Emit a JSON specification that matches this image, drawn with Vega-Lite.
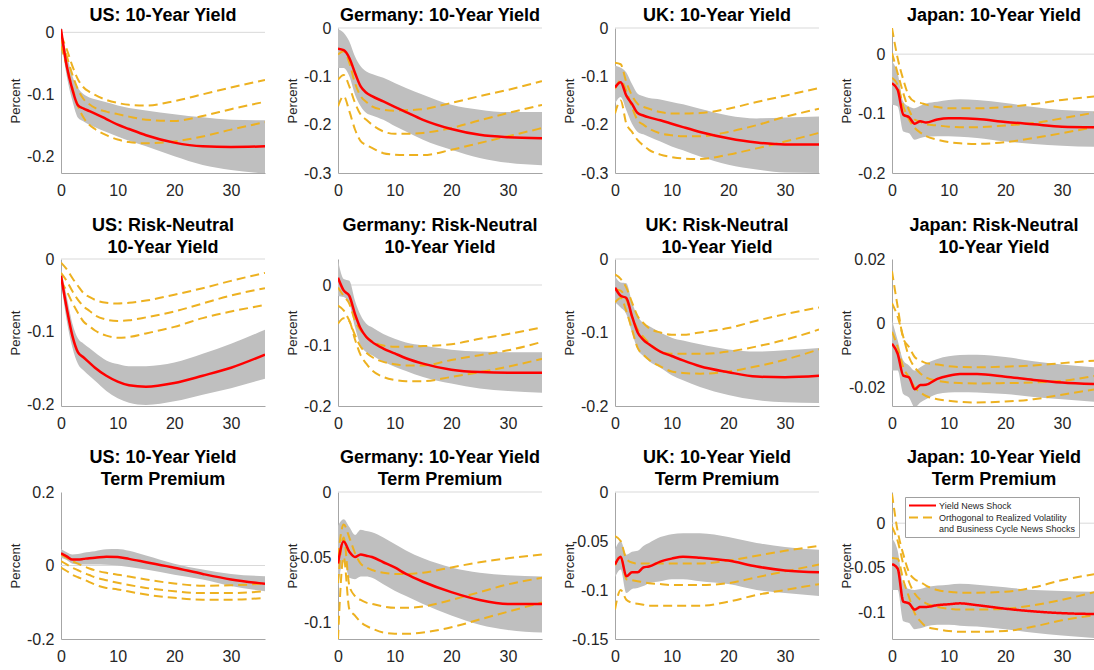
{
"$schema":"https://vega.github.io/schema/vega-lite/v6.json",
"autosize":{"type":"none"},
"padding":{"left":61,"top":28,"right":1033,"bottom":642},
"background":"#ffffff",
"config":{"font":"Liberation Sans","view":{"stroke":null},
"axis":{"grid":false,"ticks":false,"domainColor":"#a6a6a6","domainWidth":1,"labelFontSize":16,"labelColor":"#262626","labelFont":"Liberation Sans","titleFont":"Liberation Sans","titleFontSize":13,"titleFontWeight":"normal","titleColor":"#262626","labelFlush":false,"labelOverlap":false},
"axisX":{"labelPadding":9},
"axisY":{"labelPadding":7,"titlePadding":3,"minExtent":36,"maxExtent":36},
"title":{"fontSize":18,"fontWeight":"bold","color":"#000000","offset":6,"lineHeight":22,"font":"Liberation Sans","frame":"group","anchor":"middle"}},
"datasets":{"d":[
{"p":"US1","x":0,"lo":-0.01,"hi":0.003,"r":0.005,"a":-0.005,"b":-0.013,"c":-0.022},
{"p":"US1","x":1,"lo":-0.07,"hi":-0.035,"r":-0.054,"a":-0.027,"b":-0.038,"c":-0.054},
{"p":"US1","x":2,"lo":-0.11,"hi":-0.07,"r":-0.092,"a":-0.054,"b":-0.068,"c":-0.089},
{"p":"US1","x":3,"lo":-0.138,"hi":-0.09,"r":-0.118,"a":-0.076,"b":-0.092,"c":-0.119},
{"p":"US1","x":4,"lo":-0.144,"hi":-0.1,"r":-0.123,"a":-0.089,"b":-0.108,"c":-0.138},
{"p":"US1","x":5,"lo":-0.149,"hi":-0.105,"r":-0.127,"a":-0.096,"b":-0.116,"c":-0.149},
{"p":"US1","x":6,"lo":-0.153,"hi":-0.108,"r":-0.131,"a":-0.101,"b":-0.122,"c":-0.156},
{"p":"US1","x":8,"lo":-0.161,"hi":-0.113,"r":-0.14,"a":-0.109,"b":-0.128,"c":-0.166},
{"p":"US1","x":10,"lo":-0.168,"hi":-0.118,"r":-0.149,"a":-0.114,"b":-0.132,"c":-0.173},
{"p":"US1","x":12,"lo":-0.175,"hi":-0.122,"r":-0.156,"a":-0.117,"b":-0.136,"c":-0.177},
{"p":"US1","x":15,"lo":-0.184,"hi":-0.126,"r":-0.166,"a":-0.118,"b":-0.141,"c":-0.179},
{"p":"US1","x":20,"lo":-0.2,"hi":-0.132,"r":-0.178,"a":-0.111,"b":-0.143,"c":-0.176},
{"p":"US1","x":25,"lo":-0.214,"hi":-0.137,"r":-0.184,"a":-0.1,"b":-0.135,"c":-0.168},
{"p":"US1","x":30,"lo":-0.222,"hi":-0.141,"r":-0.185,"a":-0.089,"b":-0.124,"c":-0.157},
{"p":"US1","x":36,"lo":-0.228,"hi":-0.142,"r":-0.184,"a":-0.077,"b":-0.112,"c":-0.145},
{"p":"DE1","x":0,"lo":-0.083,"hi":-0.002,"r":-0.043,"a":-0.055,"b":-0.107,"c":-0.162},
{"p":"DE1","x":1,"lo":-0.083,"hi":-0.01,"r":-0.046,"a":-0.048,"b":-0.097,"c":-0.141},
{"p":"DE1","x":2,"lo":-0.1,"hi":-0.028,"r":-0.062,"a":-0.072,"b":-0.121,"c":-0.172},
{"p":"DE1","x":3,"lo":-0.138,"hi":-0.059,"r":-0.093,"a":-0.114,"b":-0.155,"c":-0.21},
{"p":"DE1","x":4,"lo":-0.162,"hi":-0.079,"r":-0.121,"a":-0.141,"b":-0.179,"c":-0.234},
{"p":"DE1","x":5,"lo":-0.176,"hi":-0.09,"r":-0.134,"a":-0.153,"b":-0.19,"c":-0.242},
{"p":"DE1","x":6,"lo":-0.181,"hi":-0.095,"r":-0.141,"a":-0.162,"b":-0.2,"c":-0.248},
{"p":"DE1","x":8,"lo":-0.19,"hi":-0.103,"r":-0.152,"a":-0.169,"b":-0.214,"c":-0.259},
{"p":"DE1","x":10,"lo":-0.203,"hi":-0.114,"r":-0.163,"a":-0.171,"b":-0.219,"c":-0.262},
{"p":"DE1","x":12,"lo":-0.214,"hi":-0.124,"r":-0.174,"a":-0.17,"b":-0.219,"c":-0.263},
{"p":"DE1","x":15,"lo":-0.231,"hi":-0.138,"r":-0.19,"a":-0.168,"b":-0.217,"c":-0.263},
{"p":"DE1","x":20,"lo":-0.252,"hi":-0.159,"r":-0.209,"a":-0.155,"b":-0.207,"c":-0.252},
{"p":"DE1","x":25,"lo":-0.269,"hi":-0.169,"r":-0.221,"a":-0.141,"b":-0.191,"c":-0.238},
{"p":"DE1","x":30,"lo":-0.279,"hi":-0.174,"r":-0.226,"a":-0.128,"b":-0.176,"c":-0.224},
{"p":"DE1","x":36,"lo":-0.284,"hi":-0.174,"r":-0.228,"a":-0.11,"b":-0.159,"c":-0.207},
{"p":"UK1","x":0,"lo":-0.157,"hi":-0.078,"r":-0.123,"a":-0.072,"b":-0.126,"c":-0.177},
{"p":"UK1","x":1,"lo":-0.143,"hi":-0.082,"r":-0.112,"a":-0.075,"b":-0.109,"c":-0.15},
{"p":"UK1","x":2,"lo":-0.17,"hi":-0.092,"r":-0.14,"a":-0.112,"b":-0.13,"c":-0.198},
{"p":"UK1","x":3,"lo":-0.198,"hi":-0.116,"r":-0.157,"a":-0.14,"b":-0.164,"c":-0.215},
{"p":"UK1","x":4,"lo":-0.215,"hi":-0.136,"r":-0.176,"a":-0.157,"b":-0.191,"c":-0.232},
{"p":"UK1","x":5,"lo":-0.22,"hi":-0.141,"r":-0.181,"a":-0.163,"b":-0.2,"c":-0.243},
{"p":"UK1","x":6,"lo":-0.225,"hi":-0.145,"r":-0.185,"a":-0.167,"b":-0.208,"c":-0.252},
{"p":"UK1","x":8,"lo":-0.235,"hi":-0.148,"r":-0.191,"a":-0.174,"b":-0.218,"c":-0.262},
{"p":"UK1","x":10,"lo":-0.245,"hi":-0.153,"r":-0.198,"a":-0.177,"b":-0.222,"c":-0.267},
{"p":"UK1","x":12,"lo":-0.253,"hi":-0.158,"r":-0.205,"a":-0.177,"b":-0.224,"c":-0.27},
{"p":"UK1","x":15,"lo":-0.266,"hi":-0.167,"r":-0.215,"a":-0.176,"b":-0.224,"c":-0.271},
{"p":"UK1","x":20,"lo":-0.283,"hi":-0.181,"r":-0.228,"a":-0.167,"b":-0.215,"c":-0.262},
{"p":"UK1","x":25,"lo":-0.293,"hi":-0.187,"r":-0.237,"a":-0.153,"b":-0.201,"c":-0.249},
{"p":"UK1","x":30,"lo":-0.299,"hi":-0.185,"r":-0.241,"a":-0.14,"b":-0.184,"c":-0.235},
{"p":"UK1","x":36,"lo":-0.3,"hi":-0.183,"r":-0.241,"a":-0.124,"b":-0.167,"c":-0.217},
{"p":"JP1","x":0,"lo":-0.085,"hi":-0.012,"r":-0.049,"a":0.044,"b":0.002,"c":-0.04},
{"p":"JP1","x":1,"lo":-0.088,"hi":-0.032,"r":-0.06,"a":-0.007,"b":-0.032,"c":-0.052},
{"p":"JP1","x":2,"lo":-0.13,"hi":-0.08,"r":-0.102,"a":-0.043,"b":-0.066,"c":-0.088},
{"p":"JP1","x":3,"lo":-0.133,"hi":-0.088,"r":-0.106,"a":-0.071,"b":-0.094,"c":-0.11},
{"p":"JP1","x":4,"lo":-0.144,"hi":-0.091,"r":-0.117,"a":-0.08,"b":-0.11,"c":-0.124},
{"p":"JP1","x":5,"lo":-0.141,"hi":-0.087,"r":-0.113,"a":-0.082,"b":-0.114,"c":-0.132},
{"p":"JP1","x":6,"lo":-0.139,"hi":-0.083,"r":-0.115,"a":-0.085,"b":-0.118,"c":-0.138},
{"p":"JP1","x":8,"lo":-0.138,"hi":-0.08,"r":-0.11,"a":-0.089,"b":-0.12,"c":-0.144},
{"p":"JP1","x":10,"lo":-0.138,"hi":-0.077,"r":-0.108,"a":-0.091,"b":-0.122,"c":-0.148},
{"p":"JP1","x":12,"lo":-0.139,"hi":-0.076,"r":-0.108,"a":-0.091,"b":-0.123,"c":-0.15},
{"p":"JP1","x":15,"lo":-0.141,"hi":-0.077,"r":-0.109,"a":-0.091,"b":-0.123,"c":-0.151},
{"p":"JP1","x":20,"lo":-0.147,"hi":-0.082,"r":-0.114,"a":-0.089,"b":-0.12,"c":-0.148},
{"p":"JP1","x":25,"lo":-0.151,"hi":-0.089,"r":-0.118,"a":-0.084,"b":-0.116,"c":-0.141},
{"p":"JP1","x":30,"lo":-0.154,"hi":-0.094,"r":-0.122,"a":-0.077,"b":-0.108,"c":-0.133},
{"p":"JP1","x":36,"lo":-0.156,"hi":-0.096,"r":-0.123,"a":-0.071,"b":-0.098,"c":-0.122},
{"p":"US2","x":0,"lo":-0.03,"hi":-0.014,"r":-0.023,"a":-0.005,"b":-0.019,"c":-0.03},
{"p":"US2","x":1,"lo":-0.084,"hi":-0.051,"r":-0.067,"a":-0.014,"b":-0.03,"c":-0.044},
{"p":"US2","x":2,"lo":-0.121,"hi":-0.088,"r":-0.105,"a":-0.026,"b":-0.044,"c":-0.06},
{"p":"US2","x":3,"lo":-0.144,"hi":-0.109,"r":-0.128,"a":-0.037,"b":-0.056,"c":-0.074},
{"p":"US2","x":4,"lo":-0.153,"hi":-0.116,"r":-0.135,"a":-0.047,"b":-0.065,"c":-0.086},
{"p":"US2","x":5,"lo":-0.16,"hi":-0.122,"r":-0.142,"a":-0.052,"b":-0.071,"c":-0.092},
{"p":"US2","x":6,"lo":-0.167,"hi":-0.128,"r":-0.149,"a":-0.056,"b":-0.077,"c":-0.098},
{"p":"US2","x":8,"lo":-0.181,"hi":-0.139,"r":-0.16,"a":-0.06,"b":-0.083,"c":-0.105},
{"p":"US2","x":10,"lo":-0.191,"hi":-0.144,"r":-0.168,"a":-0.061,"b":-0.085,"c":-0.108},
{"p":"US2","x":12,"lo":-0.197,"hi":-0.147,"r":-0.173,"a":-0.06,"b":-0.084,"c":-0.107},
{"p":"US2","x":15,"lo":-0.2,"hi":-0.147,"r":-0.175,"a":-0.057,"b":-0.08,"c":-0.102},
{"p":"US2","x":20,"lo":-0.195,"hi":-0.142,"r":-0.17,"a":-0.049,"b":-0.072,"c":-0.093},
{"p":"US2","x":25,"lo":-0.186,"hi":-0.13,"r":-0.16,"a":-0.04,"b":-0.061,"c":-0.081},
{"p":"US2","x":30,"lo":-0.177,"hi":-0.116,"r":-0.149,"a":-0.03,"b":-0.05,"c":-0.072},
{"p":"US2","x":36,"lo":-0.164,"hi":-0.097,"r":-0.131,"a":-0.019,"b":-0.04,"c":-0.063},
{"p":"DE2","x":0,"lo":-0.018,"hi":0.041,"r":0.012,"a":-0.004,"b":-0.034,"c":-0.064},
{"p":"DE2","x":1,"lo":-0.02,"hi":0.01,"r":-0.009,"a":-0.018,"b":-0.042,"c":-0.055},
{"p":"DE2","x":2,"lo":-0.031,"hi":0.007,"r":-0.018,"a":-0.031,"b":-0.059,"c":-0.06},
{"p":"DE2","x":3,"lo":-0.07,"hi":-0.026,"r":-0.048,"a":-0.059,"b":-0.083,"c":-0.09},
{"p":"DE2","x":4,"lo":-0.1,"hi":-0.05,"r":-0.072,"a":-0.075,"b":-0.102,"c":-0.116},
{"p":"DE2","x":5,"lo":-0.111,"hi":-0.064,"r":-0.086,"a":-0.086,"b":-0.112,"c":-0.13},
{"p":"DE2","x":6,"lo":-0.116,"hi":-0.07,"r":-0.094,"a":-0.093,"b":-0.119,"c":-0.141},
{"p":"DE2","x":8,"lo":-0.127,"hi":-0.081,"r":-0.105,"a":-0.1,"b":-0.127,"c":-0.152},
{"p":"DE2","x":10,"lo":-0.135,"hi":-0.089,"r":-0.113,"a":-0.102,"b":-0.131,"c":-0.157},
{"p":"DE2","x":12,"lo":-0.142,"hi":-0.095,"r":-0.121,"a":-0.102,"b":-0.133,"c":-0.159},
{"p":"DE2","x":15,"lo":-0.152,"hi":-0.1,"r":-0.13,"a":-0.101,"b":-0.133,"c":-0.159},
{"p":"DE2","x":20,"lo":-0.163,"hi":-0.107,"r":-0.14,"a":-0.098,"b":-0.124,"c":-0.152},
{"p":"DE2","x":25,"lo":-0.171,"hi":-0.11,"r":-0.144,"a":-0.089,"b":-0.116,"c":-0.144},
{"p":"DE2","x":30,"lo":-0.175,"hi":-0.111,"r":-0.145,"a":-0.081,"b":-0.108,"c":-0.135},
{"p":"DE2","x":36,"lo":-0.178,"hi":-0.111,"r":-0.145,"a":-0.07,"b":-0.094,"c":-0.122},
{"p":"UK2","x":0,"lo":-0.059,"hi":-0.023,"r":-0.039,"a":-0.021,"b":-0.041,"c":-0.059},
{"p":"UK2","x":1,"lo":-0.066,"hi":-0.032,"r":-0.05,"a":-0.027,"b":-0.043,"c":-0.053},
{"p":"UK2","x":2,"lo":-0.075,"hi":-0.033,"r":-0.053,"a":-0.039,"b":-0.055,"c":-0.071},
{"p":"UK2","x":3,"lo":-0.1,"hi":-0.059,"r":-0.078,"a":-0.059,"b":-0.078,"c":-0.096},
{"p":"UK2","x":4,"lo":-0.123,"hi":-0.078,"r":-0.1,"a":-0.078,"b":-0.096,"c":-0.121},
{"p":"UK2","x":5,"lo":-0.132,"hi":-0.087,"r":-0.11,"a":-0.087,"b":-0.106,"c":-0.13},
{"p":"UK2","x":6,"lo":-0.139,"hi":-0.091,"r":-0.116,"a":-0.094,"b":-0.114,"c":-0.137},
{"p":"UK2","x":8,"lo":-0.148,"hi":-0.1,"r":-0.126,"a":-0.1,"b":-0.126,"c":-0.146},
{"p":"UK2","x":10,"lo":-0.158,"hi":-0.107,"r":-0.132,"a":-0.103,"b":-0.129,"c":-0.153},
{"p":"UK2","x":12,"lo":-0.165,"hi":-0.111,"r":-0.138,"a":-0.103,"b":-0.129,"c":-0.155},
{"p":"UK2","x":15,"lo":-0.174,"hi":-0.116,"r":-0.146,"a":-0.1,"b":-0.129,"c":-0.156},
{"p":"UK2","x":20,"lo":-0.185,"hi":-0.123,"r":-0.154,"a":-0.094,"b":-0.126,"c":-0.153},
{"p":"UK2","x":25,"lo":-0.192,"hi":-0.126,"r":-0.16,"a":-0.084,"b":-0.119,"c":-0.146},
{"p":"UK2","x":30,"lo":-0.195,"hi":-0.124,"r":-0.161,"a":-0.075,"b":-0.11,"c":-0.137},
{"p":"UK2","x":36,"lo":-0.196,"hi":-0.121,"r":-0.159,"a":-0.066,"b":-0.096,"c":-0.123},
{"p":"JP2","x":0,"lo":-0.0146,"hi":0.001,"r":-0.0063,"a":0.0162,"b":0.0063,"c":-0.0026},
{"p":"JP2","x":1,"lo":-0.0146,"hi":-0.0052,"r":-0.0094,"a":0.0052,"b":0.0021,"c":-0.0073},
{"p":"JP2","x":2,"lo":-0.0219,"hi":-0.0115,"r":-0.0162,"a":-0.0047,"b":-0.0042,"c":-0.0136},
{"p":"JP2","x":3,"lo":-0.023,"hi":-0.013,"r":-0.0167,"a":-0.0073,"b":-0.0104,"c":-0.0167},
{"p":"JP2","x":4,"lo":-0.026,"hi":-0.0146,"r":-0.0204,"a":-0.0104,"b":-0.0136,"c":-0.0198},
{"p":"JP2","x":5,"lo":-0.0245,"hi":-0.0136,"r":-0.0191,"a":-0.0115,"b":-0.0155,"c":-0.0214},
{"p":"JP2","x":6,"lo":-0.0235,"hi":-0.0125,"r":-0.019,"a":-0.0123,"b":-0.0167,"c":-0.0225},
{"p":"JP2","x":8,"lo":-0.0219,"hi":-0.011,"r":-0.0172,"a":-0.0127,"b":-0.0178,"c":-0.0235},
{"p":"JP2","x":10,"lo":-0.0214,"hi":-0.0102,"r":-0.0162,"a":-0.0133,"b":-0.0183,"c":-0.024},
{"p":"JP2","x":12,"lo":-0.0213,"hi":-0.0098,"r":-0.0157,"a":-0.0135,"b":-0.0185,"c":-0.0243},
{"p":"JP2","x":15,"lo":-0.0214,"hi":-0.0097,"r":-0.0157,"a":-0.0136,"b":-0.0186,"c":-0.0245},
{"p":"JP2","x":20,"lo":-0.0219,"hi":-0.0104,"r":-0.0165,"a":-0.0134,"b":-0.0185,"c":-0.0242},
{"p":"JP2","x":25,"lo":-0.0228,"hi":-0.0117,"r":-0.0175,"a":-0.013,"b":-0.0183,"c":-0.0235},
{"p":"JP2","x":30,"lo":-0.0235,"hi":-0.0127,"r":-0.0183,"a":-0.0123,"b":-0.0178,"c":-0.0221},
{"p":"JP2","x":36,"lo":-0.0243,"hi":-0.0136,"r":-0.0188,"a":-0.0115,"b":-0.0162,"c":-0.0204},
{"p":"US3","x":0,"lo":0.021,"hi":0.045,"r":0.033,"a":0.03,"b":0.012,"c":-0.006},
{"p":"US3","x":1,"lo":0.015,"hi":0.036,"r":0.025,"a":0.021,"b":0.003,"c":-0.015},
{"p":"US3","x":2,"lo":0.005,"hi":0.03,"r":0.016,"a":0.012,"b":-0.006,"c":-0.025},
{"p":"US3","x":3,"lo":0.003,"hi":0.031,"r":0.016,"a":0.005,"b":-0.013,"c":-0.032},
{"p":"US3","x":4,"lo":0.003,"hi":0.035,"r":0.018,"a":-0.002,"b":-0.02,"c":-0.038},
{"p":"US3","x":5,"lo":0.003,"hi":0.037,"r":0.02,"a":-0.008,"b":-0.026,"c":-0.045},
{"p":"US3","x":6,"lo":0.003,"hi":0.039,"r":0.021,"a":-0.013,"b":-0.032,"c":-0.052},
{"p":"US3","x":8,"lo":0.002,"hi":0.044,"r":0.024,"a":-0.02,"b":-0.04,"c":-0.061},
{"p":"US3","x":10,"lo":0,"hi":0.045,"r":0.023,"a":-0.025,"b":-0.047,"c":-0.065},
{"p":"US3","x":12,"lo":-0.004,"hi":0.04,"r":0.018,"a":-0.03,"b":-0.053,"c":-0.071},
{"p":"US3","x":15,"lo":-0.011,"hi":0.027,"r":0.009,"a":-0.038,"b":-0.061,"c":-0.079},
{"p":"US3","x":20,"lo":-0.025,"hi":0.005,"r":-0.006,"a":-0.049,"b":-0.07,"c":-0.088},
{"p":"US3","x":25,"lo":-0.038,"hi":-0.011,"r":-0.023,"a":-0.055,"b":-0.075,"c":-0.093},
{"p":"US3","x":30,"lo":-0.056,"hi":-0.023,"r":-0.038,"a":-0.054,"b":-0.075,"c":-0.093},
{"p":"US3","x":36,"lo":-0.07,"hi":-0.029,"r":-0.05,"a":-0.049,"b":-0.07,"c":-0.088},
{"p":"DE3","x":0,"lo":-0.074,"hi":-0.026,"r":-0.055,"a":-0.05,"b":-0.07,"c":-0.113},
{"p":"DE3","x":1,"lo":-0.052,"hi":-0.021,"r":-0.038,"a":-0.025,"b":-0.035,"c":-0.05},
{"p":"DE3","x":2,"lo":-0.066,"hi":-0.027,"r":-0.046,"a":-0.035,"b":-0.072,"c":-0.09},
{"p":"DE3","x":3,"lo":-0.067,"hi":-0.033,"r":-0.05,"a":-0.047,"b":-0.08,"c":-0.095},
{"p":"DE3","x":4,"lo":-0.065,"hi":-0.029,"r":-0.048,"a":-0.055,"b":-0.083,"c":-0.1},
{"p":"DE3","x":5,"lo":-0.065,"hi":-0.03,"r":-0.049,"a":-0.058,"b":-0.085,"c":-0.103},
{"p":"DE3","x":6,"lo":-0.066,"hi":-0.031,"r":-0.05,"a":-0.06,"b":-0.086,"c":-0.105},
{"p":"DE3","x":8,"lo":-0.071,"hi":-0.035,"r":-0.054,"a":-0.062,"b":-0.088,"c":-0.108},
{"p":"DE3","x":10,"lo":-0.076,"hi":-0.04,"r":-0.058,"a":-0.063,"b":-0.089,"c":-0.109},
{"p":"DE3","x":12,"lo":-0.08,"hi":-0.045,"r":-0.063,"a":-0.063,"b":-0.089,"c":-0.109},
{"p":"DE3","x":15,"lo":-0.086,"hi":-0.051,"r":-0.069,"a":-0.062,"b":-0.088,"c":-0.108},
{"p":"DE3","x":20,"lo":-0.095,"hi":-0.058,"r":-0.077,"a":-0.058,"b":-0.083,"c":-0.104},
{"p":"DE3","x":25,"lo":-0.102,"hi":-0.062,"r":-0.083,"a":-0.054,"b":-0.077,"c":-0.098},
{"p":"DE3","x":30,"lo":-0.106,"hi":-0.064,"r":-0.086,"a":-0.051,"b":-0.071,"c":-0.092},
{"p":"DE3","x":36,"lo":-0.108,"hi":-0.065,"r":-0.086,"a":-0.048,"b":-0.066,"c":-0.085},
{"p":"UK3","x":0,"lo":-0.087,"hi":-0.059,"r":-0.074,"a":-0.045,"b":-0.075,"c":-0.12},
{"p":"UK3","x":1,"lo":-0.079,"hi":-0.05,"r":-0.066,"a":-0.05,"b":-0.065,"c":-0.1},
{"p":"UK3","x":2,"lo":-0.103,"hi":-0.064,"r":-0.086,"a":-0.068,"b":-0.089,"c":-0.11},
{"p":"UK3","x":3,"lo":-0.099,"hi":-0.061,"r":-0.082,"a":-0.072,"b":-0.09,"c":-0.113},
{"p":"UK3","x":4,"lo":-0.098,"hi":-0.06,"r":-0.082,"a":-0.073,"b":-0.091,"c":-0.114},
{"p":"UK3","x":5,"lo":-0.096,"hi":-0.055,"r":-0.077,"a":-0.073,"b":-0.092,"c":-0.115},
{"p":"UK3","x":6,"lo":-0.093,"hi":-0.052,"r":-0.076,"a":-0.073,"b":-0.093,"c":-0.116},
{"p":"UK3","x":8,"lo":-0.091,"hi":-0.046,"r":-0.071,"a":-0.073,"b":-0.094,"c":-0.116},
{"p":"UK3","x":10,"lo":-0.089,"hi":-0.043,"r":-0.068,"a":-0.073,"b":-0.095,"c":-0.116},
{"p":"UK3","x":12,"lo":-0.089,"hi":-0.042,"r":-0.066,"a":-0.073,"b":-0.095,"c":-0.116},
{"p":"UK3","x":15,"lo":-0.091,"hi":-0.042,"r":-0.067,"a":-0.073,"b":-0.095,"c":-0.116},
{"p":"UK3","x":20,"lo":-0.094,"hi":-0.046,"r":-0.07,"a":-0.07,"b":-0.093,"c":-0.112},
{"p":"UK3","x":25,"lo":-0.1,"hi":-0.052,"r":-0.076,"a":-0.065,"b":-0.087,"c":-0.105},
{"p":"UK3","x":30,"lo":-0.103,"hi":-0.056,"r":-0.08,"a":-0.06,"b":-0.081,"c":-0.1},
{"p":"UK3","x":36,"lo":-0.106,"hi":-0.059,"r":-0.082,"a":-0.055,"b":-0.074,"c":-0.094},
{"p":"JP3","x":0,"lo":-0.075,"hi":-0.017,"r":-0.046,"a":0.033,"b":-0.004,"c":-0.039},
{"p":"JP3","x":1,"lo":-0.075,"hi":-0.031,"r":-0.051,"a":-0.009,"b":-0.02,"c":-0.04},
{"p":"JP3","x":2,"lo":-0.11,"hi":-0.068,"r":-0.088,"a":-0.035,"b":-0.046,"c":-0.064},
{"p":"JP3","x":3,"lo":-0.112,"hi":-0.074,"r":-0.09,"a":-0.055,"b":-0.066,"c":-0.083},
{"p":"JP3","x":4,"lo":-0.119,"hi":-0.075,"r":-0.097,"a":-0.063,"b":-0.079,"c":-0.101},
{"p":"JP3","x":5,"lo":-0.118,"hi":-0.074,"r":-0.094,"a":-0.066,"b":-0.086,"c":-0.11},
{"p":"JP3","x":6,"lo":-0.116,"hi":-0.072,"r":-0.094,"a":-0.07,"b":-0.09,"c":-0.116},
{"p":"JP3","x":8,"lo":-0.114,"hi":-0.07,"r":-0.092,"a":-0.075,"b":-0.094,"c":-0.119},
{"p":"JP3","x":10,"lo":-0.114,"hi":-0.069,"r":-0.091,"a":-0.077,"b":-0.096,"c":-0.121},
{"p":"JP3","x":12,"lo":-0.115,"hi":-0.068,"r":-0.09,"a":-0.078,"b":-0.097,"c":-0.122},
{"p":"JP3","x":15,"lo":-0.116,"hi":-0.069,"r":-0.092,"a":-0.078,"b":-0.097,"c":-0.122},
{"p":"JP3","x":20,"lo":-0.119,"hi":-0.072,"r":-0.096,"a":-0.077,"b":-0.096,"c":-0.121},
{"p":"JP3","x":25,"lo":-0.123,"hi":-0.075,"r":-0.099,"a":-0.072,"b":-0.092,"c":-0.116},
{"p":"JP3","x":30,"lo":-0.126,"hi":-0.076,"r":-0.101,"a":-0.064,"b":-0.086,"c":-0.109},
{"p":"JP3","x":36,"lo":-0.129,"hi":-0.077,"r":-0.102,"a":-0.057,"b":-0.077,"c":-0.103}
]},
"data":{"name":"d"},
"columns":4,
"spacing":{"row":86,"column":73},
"bounds":"flush",
"resolve":{"scale":{"x":"independent","y":"independent","color":"independent","strokeDash":"independent"},"axis":{"x":"independent","y":"independent"},"legend":{"color":"independent","strokeDash":"independent"}},
"concat":[
{"width":204,"height":145,"title":{"text":"US: 10-Year Yield","offset":-1},"layer":[
{"data":{"values":[{"z":0}]},"mark":{"type":"rule","color":"#d9d9d9","strokeWidth":1},"encoding":{"y":{"field":"z","type":"quantitative","scale":{"domain":[-0.227,0.007],"nice":false,"zero":false},"axis":{"values":[0,-0.1,-0.2],"title":"Percent","labelExpr":"''+datum.value"}}}},
{"transform":[{"filter":"datum.p=='US1'"}],"mark":{"type":"area","color":"#bfbfbf","opacity":1,"interpolate":"monotone","clip":true},"encoding":{"x":{"field":"x","type":"quantitative","scale":{"domain":[0,36],"nice":false,"zero":false},"axis":{"values":[0,10,20,30],"title":null}},"y":{"field":"lo","type":"quantitative","scale":{"domain":[-0.227,0.007],"nice":false,"zero":false},"axis":{"values":[0,-0.1,-0.2],"title":"Percent","labelExpr":"''+datum.value"}},"y2":{"field":"hi"}}},
{"transform":[{"filter":"datum.p=='US1'"},{"fold":["a","b","c"],"as":["k","v"]}],"mark":{"type":"line","color":"#edb120","strokeWidth":2,"strokeDash":[9,5],"interpolate":"monotone","clip":true},"encoding":{"x":{"field":"x","type":"quantitative","scale":{"domain":[0,36],"nice":false,"zero":false},"axis":{"values":[0,10,20,30],"title":null}},"y":{"field":"v","type":"quantitative","scale":{"domain":[-0.227,0.007],"nice":false,"zero":false},"axis":{"values":[0,-0.1,-0.2],"title":"Percent","labelExpr":"''+datum.value"}},"detail":{"field":"k"}}},
{"transform":[{"filter":"datum.p=='US1'"}],"mark":{"type":"line","color":"#ff0000","strokeWidth":2.5,"interpolate":"monotone","clip":true},"encoding":{"x":{"field":"x","type":"quantitative","scale":{"domain":[0,36],"nice":false,"zero":false},"axis":{"values":[0,10,20,30],"title":null}},"y":{"field":"r","type":"quantitative","scale":{"domain":[-0.227,0.007],"nice":false,"zero":false},"axis":{"values":[0,-0.1,-0.2],"title":"Percent","labelExpr":"''+datum.value"}}}}
]},
{"width":204,"height":145,"title":{"text":"Germany: 10-Year Yield","offset":-5},"layer":[
{"data":{"values":[{"z":0}]},"mark":{"type":"rule","color":"#d9d9d9","strokeWidth":1},"encoding":{"y":{"field":"z","type":"quantitative","scale":{"domain":[-0.3,0],"nice":false,"zero":false},"axis":{"values":[0,-0.1,-0.2,-0.3],"title":"Percent","labelExpr":"''+datum.value"}}}},
{"transform":[{"filter":"datum.p=='DE1'"}],"mark":{"type":"area","color":"#bfbfbf","opacity":1,"interpolate":"monotone","clip":true},"encoding":{"x":{"field":"x","type":"quantitative","scale":{"domain":[0,36],"nice":false,"zero":false},"axis":{"values":[0,10,20,30],"title":null}},"y":{"field":"lo","type":"quantitative","scale":{"domain":[-0.3,0],"nice":false,"zero":false},"axis":{"values":[0,-0.1,-0.2,-0.3],"title":"Percent","labelExpr":"''+datum.value"}},"y2":{"field":"hi"}}},
{"transform":[{"filter":"datum.p=='DE1'"},{"fold":["a","b","c"],"as":["k","v"]}],"mark":{"type":"line","color":"#edb120","strokeWidth":2,"strokeDash":[9,5],"interpolate":"monotone","clip":true},"encoding":{"x":{"field":"x","type":"quantitative","scale":{"domain":[0,36],"nice":false,"zero":false},"axis":{"values":[0,10,20,30],"title":null}},"y":{"field":"v","type":"quantitative","scale":{"domain":[-0.3,0],"nice":false,"zero":false},"axis":{"values":[0,-0.1,-0.2,-0.3],"title":"Percent","labelExpr":"''+datum.value"}},"detail":{"field":"k"}}},
{"transform":[{"filter":"datum.p=='DE1'"}],"mark":{"type":"line","color":"#ff0000","strokeWidth":2.5,"interpolate":"monotone","clip":true},"encoding":{"x":{"field":"x","type":"quantitative","scale":{"domain":[0,36],"nice":false,"zero":false},"axis":{"values":[0,10,20,30],"title":null}},"y":{"field":"r","type":"quantitative","scale":{"domain":[-0.3,0],"nice":false,"zero":false},"axis":{"values":[0,-0.1,-0.2,-0.3],"title":"Percent","labelExpr":"''+datum.value"}}}}
]},
{"width":204,"height":145,"title":{"text":"UK: 10-Year Yield","offset":-5},"layer":[
{"data":{"values":[{"z":0}]},"mark":{"type":"rule","color":"#d9d9d9","strokeWidth":1},"encoding":{"y":{"field":"z","type":"quantitative","scale":{"domain":[-0.3,0],"nice":false,"zero":false},"axis":{"values":[0,-0.1,-0.2,-0.3],"title":"Percent","labelExpr":"''+datum.value"}}}},
{"transform":[{"filter":"datum.p=='UK1'"}],"mark":{"type":"area","color":"#bfbfbf","opacity":1,"interpolate":"monotone","clip":true},"encoding":{"x":{"field":"x","type":"quantitative","scale":{"domain":[0,36],"nice":false,"zero":false},"axis":{"values":[0,10,20,30],"title":null}},"y":{"field":"lo","type":"quantitative","scale":{"domain":[-0.3,0],"nice":false,"zero":false},"axis":{"values":[0,-0.1,-0.2,-0.3],"title":"Percent","labelExpr":"''+datum.value"}},"y2":{"field":"hi"}}},
{"transform":[{"filter":"datum.p=='UK1'"},{"fold":["a","b","c"],"as":["k","v"]}],"mark":{"type":"line","color":"#edb120","strokeWidth":2,"strokeDash":[9,5],"interpolate":"monotone","clip":true},"encoding":{"x":{"field":"x","type":"quantitative","scale":{"domain":[0,36],"nice":false,"zero":false},"axis":{"values":[0,10,20,30],"title":null}},"y":{"field":"v","type":"quantitative","scale":{"domain":[-0.3,0],"nice":false,"zero":false},"axis":{"values":[0,-0.1,-0.2,-0.3],"title":"Percent","labelExpr":"''+datum.value"}},"detail":{"field":"k"}}},
{"transform":[{"filter":"datum.p=='UK1'"}],"mark":{"type":"line","color":"#ff0000","strokeWidth":2.5,"interpolate":"monotone","clip":true},"encoding":{"x":{"field":"x","type":"quantitative","scale":{"domain":[0,36],"nice":false,"zero":false},"axis":{"values":[0,10,20,30],"title":null}},"y":{"field":"r","type":"quantitative","scale":{"domain":[-0.3,0],"nice":false,"zero":false},"axis":{"values":[0,-0.1,-0.2,-0.3],"title":"Percent","labelExpr":"''+datum.value"}}}}
]},
{"width":204,"height":145,"title":{"text":"Japan: 10-Year Yield","offset":3},"layer":[
{"data":{"values":[{"z":0}]},"mark":{"type":"rule","color":"#d9d9d9","strokeWidth":1},"encoding":{"y":{"field":"z","type":"quantitative","scale":{"domain":[-0.2,0.044],"nice":false,"zero":false},"axis":{"values":[0,-0.1,-0.2],"title":"Percent","labelExpr":"''+datum.value"}}}},
{"transform":[{"filter":"datum.p=='JP1'"}],"mark":{"type":"area","color":"#bfbfbf","opacity":1,"interpolate":"monotone","clip":true},"encoding":{"x":{"field":"x","type":"quantitative","scale":{"domain":[0,36],"nice":false,"zero":false},"axis":{"values":[0,10,20,30],"title":null}},"y":{"field":"lo","type":"quantitative","scale":{"domain":[-0.2,0.044],"nice":false,"zero":false},"axis":{"values":[0,-0.1,-0.2],"title":"Percent","labelExpr":"''+datum.value"}},"y2":{"field":"hi"}}},
{"transform":[{"filter":"datum.p=='JP1'"},{"fold":["a","b","c"],"as":["k","v"]}],"mark":{"type":"line","color":"#edb120","strokeWidth":2,"strokeDash":[9,5],"interpolate":"monotone","clip":true},"encoding":{"x":{"field":"x","type":"quantitative","scale":{"domain":[0,36],"nice":false,"zero":false},"axis":{"values":[0,10,20,30],"title":null}},"y":{"field":"v","type":"quantitative","scale":{"domain":[-0.2,0.044],"nice":false,"zero":false},"axis":{"values":[0,-0.1,-0.2],"title":"Percent","labelExpr":"''+datum.value"}},"detail":{"field":"k"}}},
{"transform":[{"filter":"datum.p=='JP1'"}],"mark":{"type":"line","color":"#ff0000","strokeWidth":2.5,"interpolate":"monotone","clip":true},"encoding":{"x":{"field":"x","type":"quantitative","scale":{"domain":[0,36],"nice":false,"zero":false},"axis":{"values":[0,10,20,30],"title":null}},"y":{"field":"r","type":"quantitative","scale":{"domain":[-0.2,0.044],"nice":false,"zero":false},"axis":{"values":[0,-0.1,-0.2],"title":"Percent","labelExpr":"''+datum.value"}}}}
]},
{"width":204,"height":147,"title":{"text":["US: Risk-Neutral","10-Year Yield"],"offset":-6},"layer":[
{"data":{"values":[{"z":0}]},"mark":{"type":"rule","color":"#d9d9d9","strokeWidth":1},"encoding":{"y":{"field":"z","type":"quantitative","scale":{"domain":[-0.2015,0],"nice":false,"zero":false},"axis":{"values":[0,-0.1,-0.2],"title":"Percent","labelExpr":"''+datum.value"}}}},
{"transform":[{"filter":"datum.p=='US2'"}],"mark":{"type":"area","color":"#bfbfbf","opacity":1,"interpolate":"monotone","clip":true},"encoding":{"x":{"field":"x","type":"quantitative","scale":{"domain":[0,36],"nice":false,"zero":false},"axis":{"values":[0,10,20,30],"title":null}},"y":{"field":"lo","type":"quantitative","scale":{"domain":[-0.2015,0],"nice":false,"zero":false},"axis":{"values":[0,-0.1,-0.2],"title":"Percent","labelExpr":"''+datum.value"}},"y2":{"field":"hi"}}},
{"transform":[{"filter":"datum.p=='US2'"},{"fold":["a","b","c"],"as":["k","v"]}],"mark":{"type":"line","color":"#edb120","strokeWidth":2,"strokeDash":[9,5],"interpolate":"monotone","clip":true},"encoding":{"x":{"field":"x","type":"quantitative","scale":{"domain":[0,36],"nice":false,"zero":false},"axis":{"values":[0,10,20,30],"title":null}},"y":{"field":"v","type":"quantitative","scale":{"domain":[-0.2015,0],"nice":false,"zero":false},"axis":{"values":[0,-0.1,-0.2],"title":"Percent","labelExpr":"''+datum.value"}},"detail":{"field":"k"}}},
{"transform":[{"filter":"datum.p=='US2'"}],"mark":{"type":"line","color":"#ff0000","strokeWidth":2.5,"interpolate":"monotone","clip":true},"encoding":{"x":{"field":"x","type":"quantitative","scale":{"domain":[0,36],"nice":false,"zero":false},"axis":{"values":[0,10,20,30],"title":null}},"y":{"field":"r","type":"quantitative","scale":{"domain":[-0.2015,0],"nice":false,"zero":false},"axis":{"values":[0,-0.1,-0.2],"title":"Percent","labelExpr":"''+datum.value"}}}}
]},
{"width":204,"height":147,"title":{"text":["Germany: Risk-Neutral","10-Year Yield"],"offset":2},"layer":[
{"data":{"values":[{"z":0}]},"mark":{"type":"rule","color":"#d9d9d9","strokeWidth":1},"encoding":{"y":{"field":"z","type":"quantitative","scale":{"domain":[-0.2,0.043],"nice":false,"zero":false},"axis":{"values":[0,-0.1,-0.2],"title":"Percent","labelExpr":"''+datum.value"}}}},
{"transform":[{"filter":"datum.p=='DE2'"}],"mark":{"type":"area","color":"#bfbfbf","opacity":1,"interpolate":"monotone","clip":true},"encoding":{"x":{"field":"x","type":"quantitative","scale":{"domain":[0,36],"nice":false,"zero":false},"axis":{"values":[0,10,20,30],"title":null}},"y":{"field":"lo","type":"quantitative","scale":{"domain":[-0.2,0.043],"nice":false,"zero":false},"axis":{"values":[0,-0.1,-0.2],"title":"Percent","labelExpr":"''+datum.value"}},"y2":{"field":"hi"}}},
{"transform":[{"filter":"datum.p=='DE2'"},{"fold":["a","b","c"],"as":["k","v"]}],"mark":{"type":"line","color":"#edb120","strokeWidth":2,"strokeDash":[9,5],"interpolate":"monotone","clip":true},"encoding":{"x":{"field":"x","type":"quantitative","scale":{"domain":[0,36],"nice":false,"zero":false},"axis":{"values":[0,10,20,30],"title":null}},"y":{"field":"v","type":"quantitative","scale":{"domain":[-0.2,0.043],"nice":false,"zero":false},"axis":{"values":[0,-0.1,-0.2],"title":"Percent","labelExpr":"''+datum.value"}},"detail":{"field":"k"}}},
{"transform":[{"filter":"datum.p=='DE2'"}],"mark":{"type":"line","color":"#ff0000","strokeWidth":2.5,"interpolate":"monotone","clip":true},"encoding":{"x":{"field":"x","type":"quantitative","scale":{"domain":[0,36],"nice":false,"zero":false},"axis":{"values":[0,10,20,30],"title":null}},"y":{"field":"r","type":"quantitative","scale":{"domain":[-0.2,0.043],"nice":false,"zero":false},"axis":{"values":[0,-0.1,-0.2],"title":"Percent","labelExpr":"''+datum.value"}}}}
]},
{"width":204,"height":147,"title":{"text":["UK: Risk-Neutral","10-Year Yield"],"offset":-6},"layer":[
{"data":{"values":[{"z":0}]},"mark":{"type":"rule","color":"#d9d9d9","strokeWidth":1},"encoding":{"y":{"field":"z","type":"quantitative","scale":{"domain":[-0.2,0],"nice":false,"zero":false},"axis":{"values":[0,-0.1,-0.2],"title":"Percent","labelExpr":"''+datum.value"}}}},
{"transform":[{"filter":"datum.p=='UK2'"}],"mark":{"type":"area","color":"#bfbfbf","opacity":1,"interpolate":"monotone","clip":true},"encoding":{"x":{"field":"x","type":"quantitative","scale":{"domain":[0,36],"nice":false,"zero":false},"axis":{"values":[0,10,20,30],"title":null}},"y":{"field":"lo","type":"quantitative","scale":{"domain":[-0.2,0],"nice":false,"zero":false},"axis":{"values":[0,-0.1,-0.2],"title":"Percent","labelExpr":"''+datum.value"}},"y2":{"field":"hi"}}},
{"transform":[{"filter":"datum.p=='UK2'"},{"fold":["a","b","c"],"as":["k","v"]}],"mark":{"type":"line","color":"#edb120","strokeWidth":2,"strokeDash":[9,5],"interpolate":"monotone","clip":true},"encoding":{"x":{"field":"x","type":"quantitative","scale":{"domain":[0,36],"nice":false,"zero":false},"axis":{"values":[0,10,20,30],"title":null}},"y":{"field":"v","type":"quantitative","scale":{"domain":[-0.2,0],"nice":false,"zero":false},"axis":{"values":[0,-0.1,-0.2],"title":"Percent","labelExpr":"''+datum.value"}},"detail":{"field":"k"}}},
{"transform":[{"filter":"datum.p=='UK2'"}],"mark":{"type":"line","color":"#ff0000","strokeWidth":2.5,"interpolate":"monotone","clip":true},"encoding":{"x":{"field":"x","type":"quantitative","scale":{"domain":[0,36],"nice":false,"zero":false},"axis":{"values":[0,10,20,30],"title":null}},"y":{"field":"r","type":"quantitative","scale":{"domain":[-0.2,0],"nice":false,"zero":false},"axis":{"values":[0,-0.1,-0.2],"title":"Percent","labelExpr":"''+datum.value"}}}}
]},
{"width":204,"height":147,"title":{"text":["Japan: Risk-Neutral","10-Year Yield"],"offset":-6},"layer":[
{"data":{"values":[{"z":0}]},"mark":{"type":"rule","color":"#d9d9d9","strokeWidth":1},"encoding":{"y":{"field":"z","type":"quantitative","scale":{"domain":[-0.0256,0.02],"nice":false,"zero":false},"axis":{"values":[0.02,0,-0.02],"title":"Percent","labelExpr":"''+datum.value"}}}},
{"transform":[{"filter":"datum.p=='JP2'"}],"mark":{"type":"area","color":"#bfbfbf","opacity":1,"interpolate":"monotone","clip":true},"encoding":{"x":{"field":"x","type":"quantitative","scale":{"domain":[0,36],"nice":false,"zero":false},"axis":{"values":[0,10,20,30],"title":null}},"y":{"field":"lo","type":"quantitative","scale":{"domain":[-0.0256,0.02],"nice":false,"zero":false},"axis":{"values":[0.02,0,-0.02],"title":"Percent","labelExpr":"''+datum.value"}},"y2":{"field":"hi"}}},
{"transform":[{"filter":"datum.p=='JP2'"},{"fold":["a","b","c"],"as":["k","v"]}],"mark":{"type":"line","color":"#edb120","strokeWidth":2,"strokeDash":[9,5],"interpolate":"monotone","clip":true},"encoding":{"x":{"field":"x","type":"quantitative","scale":{"domain":[0,36],"nice":false,"zero":false},"axis":{"values":[0,10,20,30],"title":null}},"y":{"field":"v","type":"quantitative","scale":{"domain":[-0.0256,0.02],"nice":false,"zero":false},"axis":{"values":[0.02,0,-0.02],"title":"Percent","labelExpr":"''+datum.value"}},"detail":{"field":"k"}}},
{"transform":[{"filter":"datum.p=='JP2'"}],"mark":{"type":"line","color":"#ff0000","strokeWidth":2.5,"interpolate":"monotone","clip":true},"encoding":{"x":{"field":"x","type":"quantitative","scale":{"domain":[0,36],"nice":false,"zero":false},"axis":{"values":[0,10,20,30],"title":null}},"y":{"field":"r","type":"quantitative","scale":{"domain":[-0.0256,0.02],"nice":false,"zero":false},"axis":{"values":[0.02,0,-0.02],"title":"Percent","labelExpr":"''+datum.value"}}}}
]},
{"width":204,"height":147,"title":{"text":["US: 10-Year Yield","Term Premium"],"offset":-5},"layer":[
{"data":{"values":[{"z":0}]},"mark":{"type":"rule","color":"#d9d9d9","strokeWidth":1},"encoding":{"y":{"field":"z","type":"quantitative","scale":{"domain":[-0.2,0.2],"nice":false,"zero":false},"axis":{"values":[0.2,0,-0.2],"title":"Percent","labelExpr":"''+datum.value"}}}},
{"transform":[{"filter":"datum.p=='US3'"}],"mark":{"type":"area","color":"#bfbfbf","opacity":1,"interpolate":"monotone","clip":true},"encoding":{"x":{"field":"x","type":"quantitative","scale":{"domain":[0,36],"nice":false,"zero":false},"axis":{"values":[0,10,20,30],"title":null}},"y":{"field":"lo","type":"quantitative","scale":{"domain":[-0.2,0.2],"nice":false,"zero":false},"axis":{"values":[0.2,0,-0.2],"title":"Percent","labelExpr":"''+datum.value"}},"y2":{"field":"hi"}}},
{"transform":[{"filter":"datum.p=='US3'"},{"fold":["a","b","c"],"as":["k","v"]}],"mark":{"type":"line","color":"#edb120","strokeWidth":2,"strokeDash":[9,5],"interpolate":"monotone","clip":true},"encoding":{"x":{"field":"x","type":"quantitative","scale":{"domain":[0,36],"nice":false,"zero":false},"axis":{"values":[0,10,20,30],"title":null}},"y":{"field":"v","type":"quantitative","scale":{"domain":[-0.2,0.2],"nice":false,"zero":false},"axis":{"values":[0.2,0,-0.2],"title":"Percent","labelExpr":"''+datum.value"}},"detail":{"field":"k"}}},
{"transform":[{"filter":"datum.p=='US3'"}],"mark":{"type":"line","color":"#ff0000","strokeWidth":2.5,"interpolate":"monotone","clip":true},"encoding":{"x":{"field":"x","type":"quantitative","scale":{"domain":[0,36],"nice":false,"zero":false},"axis":{"values":[0,10,20,30],"title":null}},"y":{"field":"r","type":"quantitative","scale":{"domain":[-0.2,0.2],"nice":false,"zero":false},"axis":{"values":[0.2,0,-0.2],"title":"Percent","labelExpr":"''+datum.value"}}}}
]},
{"width":204,"height":147,"title":{"text":["Germany: 10-Year Yield","Term Premium"],"offset":-5},"layer":[
{"data":{"values":[{"z":0}]},"mark":{"type":"rule","color":"#d9d9d9","strokeWidth":1},"encoding":{"y":{"field":"z","type":"quantitative","scale":{"domain":[-0.113,0],"nice":false,"zero":false},"axis":{"values":[0,-0.05,-0.1],"title":"Percent","labelExpr":"''+datum.value"}}}},
{"transform":[{"filter":"datum.p=='DE3'"}],"mark":{"type":"area","color":"#bfbfbf","opacity":1,"interpolate":"monotone","clip":true},"encoding":{"x":{"field":"x","type":"quantitative","scale":{"domain":[0,36],"nice":false,"zero":false},"axis":{"values":[0,10,20,30],"title":null}},"y":{"field":"lo","type":"quantitative","scale":{"domain":[-0.113,0],"nice":false,"zero":false},"axis":{"values":[0,-0.05,-0.1],"title":"Percent","labelExpr":"''+datum.value"}},"y2":{"field":"hi"}}},
{"transform":[{"filter":"datum.p=='DE3'"},{"fold":["a","b","c"],"as":["k","v"]}],"mark":{"type":"line","color":"#edb120","strokeWidth":2,"strokeDash":[9,5],"interpolate":"monotone","clip":true},"encoding":{"x":{"field":"x","type":"quantitative","scale":{"domain":[0,36],"nice":false,"zero":false},"axis":{"values":[0,10,20,30],"title":null}},"y":{"field":"v","type":"quantitative","scale":{"domain":[-0.113,0],"nice":false,"zero":false},"axis":{"values":[0,-0.05,-0.1],"title":"Percent","labelExpr":"''+datum.value"}},"detail":{"field":"k"}}},
{"transform":[{"filter":"datum.p=='DE3'"}],"mark":{"type":"line","color":"#ff0000","strokeWidth":2.5,"interpolate":"monotone","clip":true},"encoding":{"x":{"field":"x","type":"quantitative","scale":{"domain":[0,36],"nice":false,"zero":false},"axis":{"values":[0,10,20,30],"title":null}},"y":{"field":"r","type":"quantitative","scale":{"domain":[-0.113,0],"nice":false,"zero":false},"axis":{"values":[0,-0.05,-0.1],"title":"Percent","labelExpr":"''+datum.value"}}}}
]},
{"width":204,"height":147,"title":{"text":["UK: 10-Year Yield","Term Premium"],"offset":-5},"layer":[
{"data":{"values":[{"z":0}]},"mark":{"type":"rule","color":"#d9d9d9","strokeWidth":1},"encoding":{"y":{"field":"z","type":"quantitative","scale":{"domain":[-0.15,0],"nice":false,"zero":false},"axis":{"values":[0,-0.05,-0.1,-0.15],"title":"Percent","labelExpr":"''+datum.value"}}}},
{"transform":[{"filter":"datum.p=='UK3'"}],"mark":{"type":"area","color":"#bfbfbf","opacity":1,"interpolate":"monotone","clip":true},"encoding":{"x":{"field":"x","type":"quantitative","scale":{"domain":[0,36],"nice":false,"zero":false},"axis":{"values":[0,10,20,30],"title":null}},"y":{"field":"lo","type":"quantitative","scale":{"domain":[-0.15,0],"nice":false,"zero":false},"axis":{"values":[0,-0.05,-0.1,-0.15],"title":"Percent","labelExpr":"''+datum.value"}},"y2":{"field":"hi"}}},
{"transform":[{"filter":"datum.p=='UK3'"},{"fold":["a","b","c"],"as":["k","v"]}],"mark":{"type":"line","color":"#edb120","strokeWidth":2,"strokeDash":[9,5],"interpolate":"monotone","clip":true},"encoding":{"x":{"field":"x","type":"quantitative","scale":{"domain":[0,36],"nice":false,"zero":false},"axis":{"values":[0,10,20,30],"title":null}},"y":{"field":"v","type":"quantitative","scale":{"domain":[-0.15,0],"nice":false,"zero":false},"axis":{"values":[0,-0.05,-0.1,-0.15],"title":"Percent","labelExpr":"''+datum.value"}},"detail":{"field":"k"}}},
{"transform":[{"filter":"datum.p=='UK3'"}],"mark":{"type":"line","color":"#ff0000","strokeWidth":2.5,"interpolate":"monotone","clip":true},"encoding":{"x":{"field":"x","type":"quantitative","scale":{"domain":[0,36],"nice":false,"zero":false},"axis":{"values":[0,10,20,30],"title":null}},"y":{"field":"r","type":"quantitative","scale":{"domain":[-0.15,0],"nice":false,"zero":false},"axis":{"values":[0,-0.05,-0.1,-0.15],"title":"Percent","labelExpr":"''+datum.value"}}}}
]},
{"width":204,"height":147,"title":{"text":["Japan: 10-Year Yield","Term Premium"],"offset":3},"layer":[
{"data":{"values":[{"z":0}]},"mark":{"type":"rule","color":"#d9d9d9","strokeWidth":1},"encoding":{"y":{"field":"z","type":"quantitative","scale":{"domain":[-0.13,0.035],"nice":false,"zero":false},"axis":{"values":[0,-0.05,-0.1],"title":"Percent","labelExpr":"''+datum.value"}}}},
{"transform":[{"filter":"datum.p=='JP3'"}],"mark":{"type":"area","color":"#bfbfbf","opacity":1,"interpolate":"monotone","clip":true},"encoding":{"x":{"field":"x","type":"quantitative","scale":{"domain":[0,36],"nice":false,"zero":false},"axis":{"values":[0,10,20,30],"title":null}},"y":{"field":"lo","type":"quantitative","scale":{"domain":[-0.13,0.035],"nice":false,"zero":false},"axis":{"values":[0,-0.05,-0.1],"title":"Percent","labelExpr":"''+datum.value"}},"y2":{"field":"hi"}}},
{"transform":[{"filter":"datum.p=='JP3'"},{"fold":["a","b","c"],"as":["k","v"]}],"mark":{"type":"line","strokeWidth":2,"interpolate":"monotone","clip":true},"encoding":{"x":{"field":"x","type":"quantitative","scale":{"domain":[0,36],"nice":false,"zero":false},"axis":{"values":[0,10,20,30],"title":null}},"y":{"field":"v","type":"quantitative","scale":{"domain":[-0.13,0.035],"nice":false,"zero":false},"axis":{"values":[0,-0.05,-0.1],"title":"Percent","labelExpr":"''+datum.value"}},
"color":{"field":"k","type":"nominal","scale":{"domain":["r","a","b","c"],"range":["#ff0000","#edb120","#edb120","#edb120"]},"legend":{"values":["r","a"],"title":null,"orient":"none","legendX":13,"legendY":5,"symbolType":"M-1,0L5,0","symbolSize":81,"symbolStrokeWidth":2,"labelFontSize":9,"labelColor":"#262626","labelFont":"Liberation Sans","strokeColor":"#a0a0a0","fillColor":"#ffffff","padding":3,"rowPadding":1,"labelOffset":20,"labelLimit":400,"labelExpr":"datum.value == 'r' ? 'Yield News Shock' : ['Orthogonal to Realized Volatility', '\u00a0\u00a0and Business Cycle News Shocks']"}},
"strokeDash":{"field":"k","type":"nominal","scale":{"domain":["r","a","b","c"],"range":[[1,0],[9,5],[9,5],[9,5]]},"legend":{"values":["r","a"],"title":null,"orient":"none","legendX":13,"legendY":5,"symbolType":"M-1,0L5,0","symbolSize":81,"symbolStrokeWidth":2,"labelFontSize":9,"labelColor":"#262626","labelFont":"Liberation Sans","strokeColor":"#a0a0a0","fillColor":"#ffffff","padding":3,"rowPadding":1,"labelOffset":20,"labelLimit":400,"labelExpr":"datum.value == 'r' ? 'Yield News Shock' : ['Orthogonal to Realized Volatility', '\u00a0\u00a0and Business Cycle News Shocks']"}}}},
{"transform":[{"filter":"datum.p=='JP3'"},{"fold":["r"],"as":["k","v"]}],"mark":{"type":"line","strokeWidth":2.5,"interpolate":"monotone","clip":true},"encoding":{"x":{"field":"x","type":"quantitative","scale":{"domain":[0,36],"nice":false,"zero":false},"axis":{"values":[0,10,20,30],"title":null}},"y":{"field":"v","type":"quantitative","scale":{"domain":[-0.13,0.035],"nice":false,"zero":false},"axis":{"values":[0,-0.05,-0.1],"title":"Percent","labelExpr":"''+datum.value"}},
"color":{"field":"k","type":"nominal","scale":{"domain":["r","a","b","c"],"range":["#ff0000","#edb120","#edb120","#edb120"]},"legend":{"values":["r","a"],"title":null,"orient":"none","legendX":13,"legendY":5,"symbolType":"M-1,0L5,0","symbolSize":81,"symbolStrokeWidth":2,"labelFontSize":9,"labelColor":"#262626","labelFont":"Liberation Sans","strokeColor":"#a0a0a0","fillColor":"#ffffff","padding":3,"rowPadding":1,"labelOffset":20,"labelLimit":400,"labelExpr":"datum.value == 'r' ? 'Yield News Shock' : ['Orthogonal to Realized Volatility', '\u00a0\u00a0and Business Cycle News Shocks']"}},
"strokeDash":{"field":"k","type":"nominal","scale":{"domain":["r","a","b","c"],"range":[[1,0],[9,5],[9,5],[9,5]]},"legend":{"values":["r","a"],"title":null,"orient":"none","legendX":13,"legendY":5,"symbolType":"M-1,0L5,0","symbolSize":81,"symbolStrokeWidth":2,"labelFontSize":9,"labelColor":"#262626","labelFont":"Liberation Sans","strokeColor":"#a0a0a0","fillColor":"#ffffff","padding":3,"rowPadding":1,"labelOffset":20,"labelLimit":400,"labelExpr":"datum.value == 'r' ? 'Yield News Shock' : ['Orthogonal to Realized Volatility', '\u00a0\u00a0and Business Cycle News Shocks']"}}}}
]}
]
}
